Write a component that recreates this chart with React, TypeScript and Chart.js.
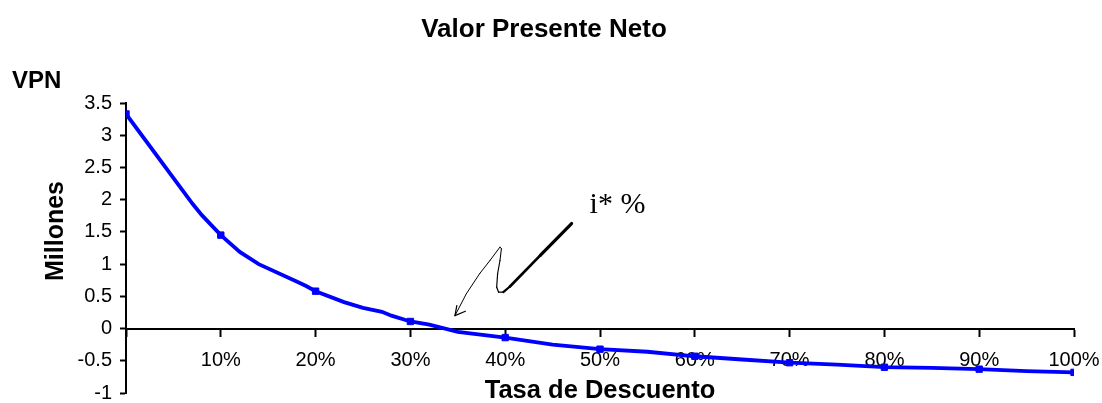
import React, { useEffect, useRef } from "react";
import { Chart, registerables } from "chart.js";

Chart.register(...registerables);

// ---- Data ----
const CHART_TITLE = "Valor Presente Neto";
const X_TITLE = "Tasa de Descuento";
const Y_TITLE = "Millones";
const Y_UNIT = "VPN";
const ANNOT_TEXT = "i* %";

// discount rate (%) and NPV (millions)
const rates = [0, 7, 8, 10, 12, 14, 18, 19, 20, 23, 25, 27, 28, 30, 32, 35, 40, 45, 50, 55, 60, 65, 70, 75, 80, 85, 90, 95, 100];
const npv = [3.33, 1.94, 1.76, 1.45, 1.19, 1.0, 0.73, 0.66, 0.58, 0.41, 0.32, 0.26, 0.2, 0.11, 0.06, -0.05, -0.14, -0.25, -0.32, -0.36, -0.43, -0.48, -0.53, -0.56, -0.6, -0.61, -0.63, -0.66, -0.68];

const X_MIN = 0;
const X_MAX = 100;
const X_STEP = 10;
const Y_MIN = -1;
const Y_MAX = 3.5;
const Y_STEP = 0.5;

// hand-drawn annotation arrow, in data units (rate %, NPV)
const arrowPath: [number, number][] = [
  [47.0, 1.63], [43.7, 1.135], [40.5, 0.653], [39.8, 0.565], [39.3, 0.565],
  [39.1, 0.642], [39.2, 0.851], [39.45, 1.058], [39.6, 1.24], [39.45, 1.264],
  [38.4, 1.058], [37.3, 0.851], [35.9, 0.54], [34.7, 0.2],
];
const arrowHead: [number, number][] = [[34.9, 0.358], [35.8, 0.269]];
const annotTextPos: [number, number] = [48.9, 1.79];

const SANS = '"Liberation Sans", Arial, Helvetica, sans-serif';
const SERIF = '"Liberation Serif", "Times New Roman", serif';

const annotationPlugin = {
  id: "annotations",
  afterDraw(chart: any) {
    const { ctx } = chart;
    const xs = chart.scales.x;
    const ys = chart.scales.y;
    ctx.save();
    ctx.fillStyle = "#000";
    // VPN unit label
    ctx.font = `bold 24px ${SANS}`;
    ctx.textAlign = "left";
    ctx.textBaseline = "middle";
    ctx.fillText(Y_UNIT, 12, 81);
    // Millones (rotated)
    ctx.save();
    ctx.font = `bold 25px ${SANS}`;
    ctx.translate(56, 231);
    ctx.rotate(-Math.PI / 2);
    ctx.textAlign = "center";
    ctx.fillText(Y_TITLE, 0, 0);
    ctx.restore();

    // arrow
    const pts = arrowPath.map(([a, b]) => [xs.getPixelForValue(a), ys.getPixelForValue(b)]);
    ctx.strokeStyle = "#000";
    ctx.lineCap = "round";
    ctx.lineJoin = "round";
    for (let i = 0; i < pts.length - 1; i++) {
      const t = i / (pts.length - 2);
      ctx.lineWidth = i < 3 ? 3.2 - i * 0.5 : Math.max(1, 1.6 - t);
      ctx.beginPath();
      ctx.moveTo(pts[i][0], pts[i][1]);
      ctx.lineTo(pts[i + 1][0], pts[i + 1][1]);
      ctx.stroke();
    }
    const tip = pts[pts.length - 1];
    ctx.lineWidth = 1.2;
    for (const [a, b] of arrowHead) {
      ctx.beginPath();
      ctx.moveTo(tip[0], tip[1]);
      ctx.lineTo(xs.getPixelForValue(a), ys.getPixelForValue(b));
      ctx.stroke();
    }
    // i* % text
    ctx.font = `30px ${SERIF}`;
    ctx.textBaseline = "alphabetic";
    ctx.textAlign = "left";
    ctx.fillText(ANNOT_TEXT, xs.getPixelForValue(annotTextPos[0]), ys.getPixelForValue(annotTextPos[1]));
    ctx.restore();
  },
};

export default function App() {
  const ref = useRef<HTMLCanvasElement>(null);
  useEffect(() => {
    document.body.style.margin = "0";
    const data = rates.map((r, i) => ({ x: r, y: npv[i] }));
    const chart = new Chart(ref.current as HTMLCanvasElement, {
      type: "line",
      data: {
        datasets: [
          {
            data,
            borderColor: "#0000FF",
            backgroundColor: "#0000FF",
            borderWidth: 3.8,
            tension: 0,
            fill: false,
            pointStyle: "rect",
            pointRadius: (c: any) => (rates[c.dataIndex] % 10 === 0 ? 4.5 : 0),
            pointBorderWidth: 1,
            pointBorderColor: "#0000FF",
            pointBackgroundColor: "#0000FF",
          },
        ],
      },
      options: {
        responsive: true,
        maintainAspectRatio: false,
        animation: false,
        layout: { padding: { left: 14, right: 28, top: 0, bottom: 10 } },
        plugins: {
          legend: { display: false },
          tooltip: { enabled: false },
          title: {
            display: true,
            text: CHART_TITLE,
            color: "#000",
            font: { family: SANS, size: 26, weight: "bold", lineHeight: 1.2 },
            padding: { top: 14.4, bottom: 57.4 },
          },
        },
        scales: {
          x: {
            type: "linear",
            position: { y: 0 },
            min: X_MIN,
            max: X_MAX,
            grid: {
              display: true,
              drawOnChartArea: false,
              drawTicks: true,
              tickLength: 7,
              tickWidth: 2,
              tickColor: "#000",
            },
            border: { display: true, color: "#000", width: 2 },
            ticks: {
              stepSize: X_STEP,
              color: "#000",
              padding: 2,
              maxRotation: 0,
              autoSkip: false,
              font: { family: SANS, size: 20, lineHeight: 2.34 },
              callback: (v: any) => (Number(v) === 0 ? "" : `${v}%`),
            },
            title: {
              display: true,
              text: X_TITLE,
              color: "#000",
              font: { family: SANS, size: 25.5, weight: "bold", lineHeight: 1.2 },
              padding: { top: -10.5, bottom: 0 },
            },
          },
          y: {
            type: "linear",
            position: "left",
            min: Y_MIN,
            max: Y_MAX,
            afterFit: (s: any) => {
              s.width = 112;
            },
            grid: {
              display: true,
              drawOnChartArea: false,
              drawTicks: true,
              tickLength: 6,
              tickWidth: 2,
              tickColor: "#000",
            },
            border: { display: true, color: "#000", width: 2 },
            ticks: {
              stepSize: Y_STEP,
              color: "#000",
              padding: 8,
              font: { family: SANS, size: 20, lineHeight: 0.1 },
              callback: (v: any) => String(Number(v)),
            },
          },
        },
      },
      plugins: [annotationPlugin],
    });
    return () => chart.destroy();
  }, []);
  return (
    <div style={{ position: "relative", width: 1102, height: 403 }}>
      <canvas ref={ref} />
    </div>
  );
}
